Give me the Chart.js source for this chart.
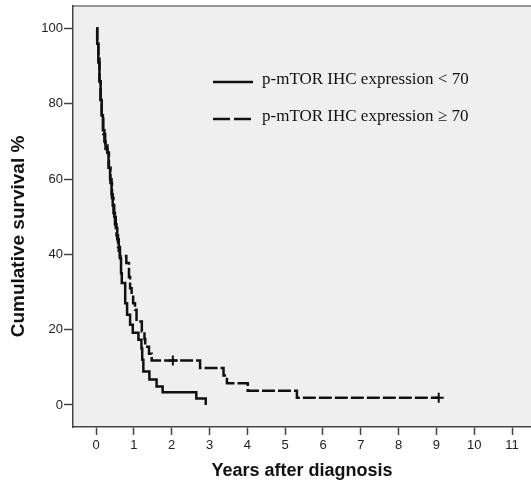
<!DOCTYPE html>
<html>
<head>
<meta charset="utf-8">
<script src="https://cdn.jsdelivr.net/npm/chart.js@4.4.1/dist/chart.umd.min.js"></script>
<style>
  html, body { margin: 0; padding: 0; background: #fff; overflow: hidden; }
  canvas { display: block; }
</style>
</head>
<body>
<canvas id="km" width="531" height="482"></canvas>
<script>
// p-mTOR IHC expression < 70 (solid)
const lowYears = [0, 0.03, 0.06, 0.09, 0.12, 0.15, 0.18, 0.22, 0.25, 0.3, 0.33, 0.37, 0.41, 0.44, 0.48, 0.52, 0.56, 0.6, 0.63, 0.66, 0.68, 0.77, 0.82, 0.9, 0.97, 1.12, 1.2, 1.22, 1.25, 1.41, 1.6, 1.76, 2.65, 2.9];
const lowSurv  = [100, 96, 92, 86, 81, 77, 73, 70, 68, 67, 63, 60, 56, 53, 50, 47, 44, 41, 39, 35, 32.4, 27, 24, 21.3, 19.2, 17.3, 15, 12, 8.9, 6.8, 4.9, 3.4, 1.7, 0];

// p-mTOR IHC expression >= 70 (dashed)
const highYears = [0, 0.03, 0.06, 0.09, 0.12, 0.15, 0.19, 0.24, 0.3, 0.34, 0.38, 0.42, 0.46, 0.5, 0.54, 0.58, 0.63, 0.8, 0.87, 0.9, 0.94, 0.98, 1.03, 1.07, 1.21, 1.28, 1.3, 1.4, 1.47, 2.75, 3.37, 3.46, 4.01, 5.31, 9.06];
const highSurv  = [100, 96, 91, 86, 81, 77, 72, 69, 67, 63, 59, 55, 51, 48, 45, 42, 39.6, 37.7, 34, 31, 29.3, 27, 25.3, 22.2, 19.5, 17.5, 15.5, 13.6, 11.8, 9.8, 7.8, 5.8, 3.8, 1.9, 1.9];

// censored observations (dashed group)
const censorYears = [2.03, 9.06];
const censorSurv  = [11.8, 1.9];

const xTicks = [0, 1, 2, 3, 4, 5, 6, 7, 8, 9, 10, 11];
const yTicks = [0, 20, 40, 60, 80, 100];

const legendLabels = ["p-mTOR IHC expression < 70", "p-mTOR IHC expression \u2265 70"];
const yTitle = "Cumulative survival %";

const toPoints = (xs, ys) => xs.map((x, i) => ({ x, y: ys[i] }));

// grey plot panel + top frame line
const panelPlugin = {
  id: "panel",
  beforeDraw(chart) {
    const { ctx, chartArea: a } = chart;
    ctx.save();
    ctx.fillStyle = "#efefef";
    ctx.fillRect(a.left, a.top, a.right - a.left, a.bottom - a.top);
    ctx.strokeStyle = "#777";
    ctx.lineWidth = 1.5;
    ctx.beginPath();
    ctx.moveTo(a.left, a.top);
    ctx.lineTo(a.right, a.top);
    ctx.stroke();
    ctx.restore();
  }
};

// legend inside the plot (serif, like the original) and the y title
const legendPlugin = {
  id: "kmLegend",
  afterDraw(chart) {
    const { ctx, chartArea: a } = chart;
    const x0 = a.left + 140, rows = [a.top + 76, a.top + 113];
    ctx.save();
    ctx.strokeStyle = "#111";
    ctx.lineWidth = 2.5;
    rows.forEach((y, i) => {
      ctx.setLineDash(i === 0 ? [] : [17, 4]);
      ctx.beginPath();
      ctx.moveTo(x0, y);
      ctx.lineTo(x0 + 40, y);
      ctx.stroke();
      ctx.setLineDash([]);
      ctx.fillStyle = "#111";
      ctx.font = "17px 'Liberation Serif', 'Times New Roman', serif";
      ctx.textBaseline = "middle";
      ctx.textAlign = "left";
      ctx.fillText(legendLabels[i], x0 + 49, y - 2);
    });

    // y axis title, sits a bit below the plot middle in the original
    ctx.translate(19, (a.top + a.bottom) / 2 + 20);
    ctx.rotate(-Math.PI / 2);
    ctx.font = "bold 19px 'Liberation Sans', Arial, sans-serif";
    ctx.textAlign = "center";
    ctx.textBaseline = "middle";
    ctx.fillText(yTitle, 0, 0);
    ctx.restore();
  }
};

new Chart(document.getElementById("km"), {
  type: "line",
  data: {
    datasets: [
      {
        label: legendLabels[0],
        data: toPoints(lowYears, lowSurv),
        borderColor: "#111",
        borderWidth: 2.5,
        stepped: true,
        pointRadius: 0,
        pointHoverRadius: 0,
        fill: false
      },
      {
        label: legendLabels[1],
        data: toPoints(highYears, highSurv),
        borderColor: "#111",
        borderWidth: 2.5,
        borderDash: [13, 3],
        stepped: true,
        pointRadius: 0,
        pointHoverRadius: 0,
        fill: false
      },
      {
        label: "censored",
        data: toPoints(censorYears, censorSurv),
        showLine: false,
        pointStyle: "cross",
        pointRadius: 5,
        pointBorderWidth: 2,
        pointBorderColor: "#111"
      }
    ]
  },
  options: {
    responsive: false,
    animation: false,
    layout: { autoPadding: false, padding: { top: 6, right: 0, left: 0, bottom: 0 } },
    plugins: { legend: { display: false }, tooltip: { enabled: false } },
    scales: {
      x: {
        type: "linear",
        min: -0.61,
        max: 11.5,
        afterFit: s => { s.height = 55; s.paddingLeft = 0; s.paddingRight = 0; },
        afterBuildTicks: s => { s.ticks = xTicks.map(v => ({ value: v })); },
        grid: { drawOnChartArea: false, drawTicks: true, tickLength: 8, tickWidth: 1.5, tickColor: "#444" },
        border: { display: true, color: "#444", width: 1.5 },
        ticks: { color: "#222", padding: 3, maxRotation: 0, font: { family: "'Liberation Sans', Arial, sans-serif", size: 13 } },
        title: {
          display: true,
          text: "Years after diagnosis",
          color: "#111",
          padding: { top: 0, bottom: 0 },
          font: { family: "'Liberation Sans', Arial, sans-serif", size: 18, weight: "bold" }
        }
      },
      y: {
        type: "linear",
        min: -5.85,
        max: 106,
        afterFit: s => { s.width = 73; s.paddingTop = 0; s.paddingBottom = 0; },
        afterBuildTicks: s => { s.ticks = yTicks.map(v => ({ value: v })); },
        grid: { drawOnChartArea: false, drawTicks: true, tickLength: 9, tickWidth: 1.5, tickColor: "#444" },
        border: { display: true, color: "#444", width: 1.5 },
        ticks: { color: "#222", padding: 1, font: { family: "'Liberation Sans', Arial, sans-serif", size: 13 } }
      }
    }
  },
  plugins: [panelPlugin, legendPlugin]
});
</script>
</body>
</html>
